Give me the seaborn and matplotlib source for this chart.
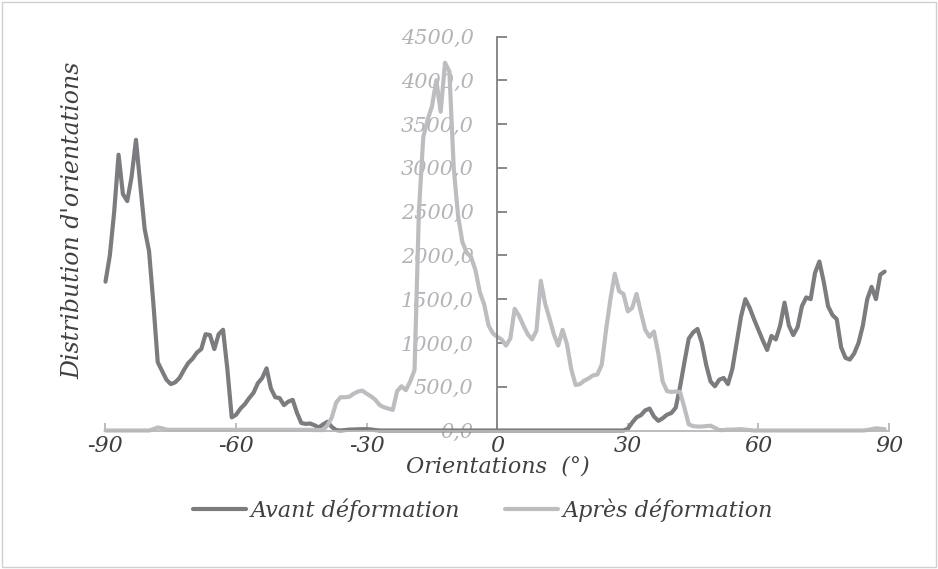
import numpy as np
import pandas as pd
import matplotlib
matplotlib.use("Agg")
import matplotlib.pyplot as plt
from matplotlib.lines import Line2D
from matplotlib.patches import Rectangle
import seaborn as sns

# Orientation bins (degrees)
orientations = list(range(-90, 90))

avant = [
    1700, 2000, 2500, 3150, 2700, 2620, 2900, 3320, 2800, 2300,   # -90..-81
    2050, 1450, 780, 680, 580, 530, 550, 600, 690, 770,           # -80..-71
    820, 890, 930, 1100, 1090, 930, 1100, 1150, 700, 150,         # -70..-61
    180, 250, 300, 370, 430, 540, 600, 710, 480, 380,             # -60..-51
    370, 290, 330, 350, 200, 85, 75, 80, 60, 35,                  # -50..-41
    70, 100, 40, 5, 0, 5, 10, 12, 15, 15,                         # -40..-31
    15, 12, 5, 0, 0, 0, 0, 0, 0, 0,                               # -30..-21
    0, 0, 0, 0, 0, 0, 0, 0, 0, 0,                                 # -20..-11
    0, 0, 0, 0, 0, 0, 0, 0, 0, 0,                                 # -10..-1
    0, 0, 0, 0, 0, 0, 0, 0, 0, 0,                                 # 0..9
    0, 0, 0, 0, 0, 0, 0, 0, 0, 0,                                 # 10..19
    0, 0, 0, 0, 0, 0, 0, 0, 0, 0,                                 # 20..29
    20, 90, 150, 175, 230, 250, 160, 110, 140, 180,               # 30..39
    200, 260, 500, 780, 1050, 1120, 1160, 1000, 750, 560,         # 40..49
    505, 580, 600, 530, 700, 1000, 1300, 1500, 1400, 1270,        # 50..59
    1150, 1030, 920, 1080, 1040, 1200, 1460, 1200, 1090, 1180,    # 60..69
    1420, 1520, 1500, 1800, 1930, 1700, 1420, 1320, 1270, 950,    # 70..79
    830, 810, 880, 1000, 1200, 1500, 1640, 1500, 1780, 1815,      # 80..89
]

apres = [
    0, 0, 0, 0, 0, 0, 0, 0, 0, 0,                                 # -90..-81
    0, 15, 35, 25, 10, 8, 8, 8, 8, 8,                             # -80..-71
    8, 8, 8, 8, 8, 8, 8, 8, 8, 8,                                 # -70..-61
    8, 8, 8, 8, 8, 8, 8, 8, 8, 8,                                 # -60..-51
    8, 8, 8, 8, 8, 8, 8, 8, 5, 5,                                 # -50..-41
    5, 60, 150, 320, 380, 380, 385, 420, 445, 455,                # -40..-31
    420, 390, 350, 290, 265, 250, 235, 450, 505, 460,             # -30..-21
    560, 690, 2500, 3350, 3550, 3700, 4000, 3640, 4200, 4100,     # -20..-11
    3000, 2450, 2150, 2030, 1980, 1830, 1580, 1440, 1200, 1110,   # -10..-1
    1070, 1040, 970, 1050, 1390, 1310, 1200, 1100, 1040, 1140,    # 0..9
    1710, 1450, 1280, 1100, 970, 1150, 990, 700, 520, 530,        # 10..19
    570, 595, 630, 640, 750, 1150, 1500, 1790, 1590, 1560,        # 20..29
    1360, 1400, 1560, 1350, 1150, 1070, 1130, 880, 560, 450,      # 30..39
    440, 445, 440, 260, 70, 50, 45, 45, 50, 55,                   # 40..49
    30, 5, 5, 10, 10, 12, 15, 10, 5, 0,                           # 50..59
    0, 0, 0, 0, 0, 0, 0, 0, 0, 0,                                 # 60..69
    0, 0, 0, 0, 0, 0, 0, 0, 0, 0,                                 # 70..79
    0, 0, 0, 0, 0, 5, 15, 25, 20, 15,                             # 80..89
]

series_names = ["Avant déformation", "Après déformation"]
x_ticks = [-90, -60, -30, 0, 30, 60, 90]
y_ticks = list(range(0, 4501, 500))

df = pd.DataFrame({
    "Orientation": orientations * 2,
    "Distribution": avant + apres,
    "Série": [series_names[0]] * len(avant) + [series_names[1]] * len(apres),
})

sns.set_style("white")
plt.rcParams["font.family"] = ["DejaVu Serif"]
plt.rcParams["font.style"] = "italic"

dark = "#7c7c80"
light = "#bdbdc1"
text_dark = "#404040"
tick_light = "#b4b4b8"

fig = plt.figure(figsize=(9.38, 5.69), dpi=100)
ax = fig.add_axes([105.5 / 938, 1 - 430.5 / 569, (889 - 105.5) / 938, (430.5 - 36.5) / 569])

sns.lineplot(data=df, x="Orientation", y="Distribution", hue="Série",
             palette=[dark, light], linewidth=3.0, ax=ax, legend=False,
             clip_on=False)

ax.set_xlim(-90, 90)
ax.set_ylim(0, 4500)

# Vertical axis crosses at x = 0
for s in ["top", "right"]:
    ax.spines[s].set_visible(False)
ax.spines["left"].set_position(("data", 0))
ax.spines["left"].set_color("#808080")
ax.spines["left"].set_linewidth(1.3)
ax.spines["bottom"].set_color("#b8b8b8")
ax.spines["bottom"].set_linewidth(1.3)

ax.set_yticks(y_ticks)
ax.set_yticklabels([f"{v:.1f}".replace(".", ",") for v in y_ticks])
ax.tick_params(axis="y", direction="in", length=7, width=1.3, color="#808080",
               labelsize=15, labelcolor=tick_light, pad=17, left=True)
ax.set_xticks(x_ticks)
ax.set_xticklabels([str(v) for v in x_ticks])
ax.tick_params(axis="x", direction="in", length=6, width=1.3, color="#b8b8b8",
               labelsize=16, labelcolor=text_dark, pad=3, bottom=True)
ax.set_xlabel("")
ax.set_ylabel("")
ax.grid(False)
ax.patch.set_alpha(0)

fig.text(0.531, 1 - 466 / 569, "Orientations  (°)", ha="center", va="center",
         fontsize=16, color=text_dark)
fig.text(73 / 938, 1 - 220 / 569, "Distribution d'orientations", ha="center",
         va="center", rotation=90, fontsize=17, color=text_dark)

handles = [Line2D([], [], color=dark, linewidth=3.0),
           Line2D([], [], color=light, linewidth=3.0)]
leg = fig.legend(handles, series_names, loc="center", ncol=2,
                 bbox_to_anchor=(483 / 938, 1 - 510 / 569), frameon=False,
                 fontsize=16, handlelength=2.4, handletextpad=0.2,
                 columnspacing=2.0)
for t in leg.get_texts():
    t.set_color(text_dark)

# Chart-area border
fig.patches.append(Rectangle((2 / 938, 2 / 569), 1 - 4 / 938, 1 - 4 / 569,
                             transform=fig.transFigure, fill=False,
                             edgecolor="#d0d0d0", linewidth=1.0))

fig.savefig("out.png", dpi=100)
